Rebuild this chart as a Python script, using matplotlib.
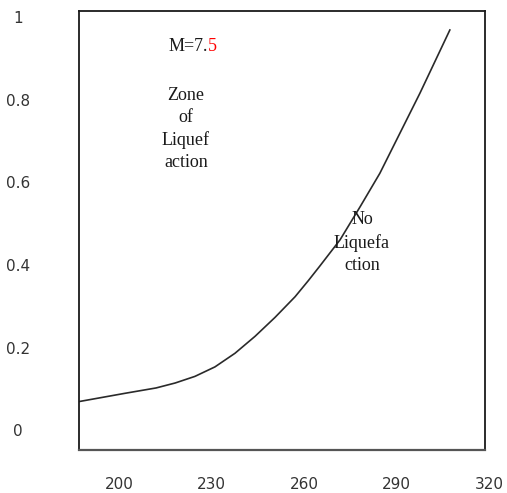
import matplotlib
matplotlib.use("Agg")
import matplotlib.pyplot as plt

# curve (x: value, y: ratio)
curve_x = [187.0, 201.9, 212.0, 218.2, 224.6, 231.1, 237.6, 244.1, 250.6,
           257.1, 261.4, 265.2, 271.7, 278.2, 284.6, 291.1, 297.6, 307.3]
curve_y = [0.073, 0.093, 0.106, 0.118, 0.134, 0.157, 0.190, 0.231, 0.277,
           0.327, 0.366, 0.402, 0.465, 0.545, 0.626, 0.723, 0.820, 0.973]

x_ticks = [200, 230, 260, 290, 320]
y_ticks = [0, 0.2, 0.4, 0.6, 0.8, 1]
y_tick_labels = ["0", "0.2", "0.4", "0.6", "0.8", "1"]

fig = plt.figure(figsize=(5.07, 4.93), dpi=100)
ax = fig.add_axes([0.1558, 0.0872, 0.8008, 0.8905])
ax.set_xlim(187.0, 318.7)
ax.set_ylim(-0.0443, 1.019)

ax.plot(curve_x, curve_y, color="#2a2a2a", lw=1.2)

ax.set_xticks([])
ax.set_yticks([])
for side in ["left", "top", "right"]:
    ax.spines[side].set_color("#1a1a1a")
    ax.spines[side].set_linewidth(1.3)
ax.spines["bottom"].set_color("#555555")
ax.spines["bottom"].set_linewidth(1.6)

# tick labels sit away from the box, like in the original
for v in x_ticks:
    ax.text(v, -0.127, str(v), ha="center", va="center", fontsize=11,
            color="#333333", clip_on=False)
for v, lab in zip(y_ticks, y_tick_labels):
    ax.text(167.2, v, lab, ha="center", va="center", fontsize=11,
            color="#333333", clip_on=False)

serif = "Liberation Serif"
ax.text(228.9, 0.932, "M=7.", ha="right", va="center", fontsize=13,
        family=serif, color="#1a1a1a")
ax.text(228.9, 0.932, "5", ha="left", va="center", fontsize=13,
        family=serif, color="red")
ax.text(221.7, 0.733, "Zone\nof\nLiquef\naction", ha="center", va="center",
        fontsize=13, family=serif, color="#1a1a1a", linespacing=1.4)
ax.text(278.8, 0.458, "No\nLiquefa\nction", ha="center", va="center",
        fontsize=13, family=serif, color="#1a1a1a", linespacing=1.4)

fig.savefig("out.png", dpi=100)
